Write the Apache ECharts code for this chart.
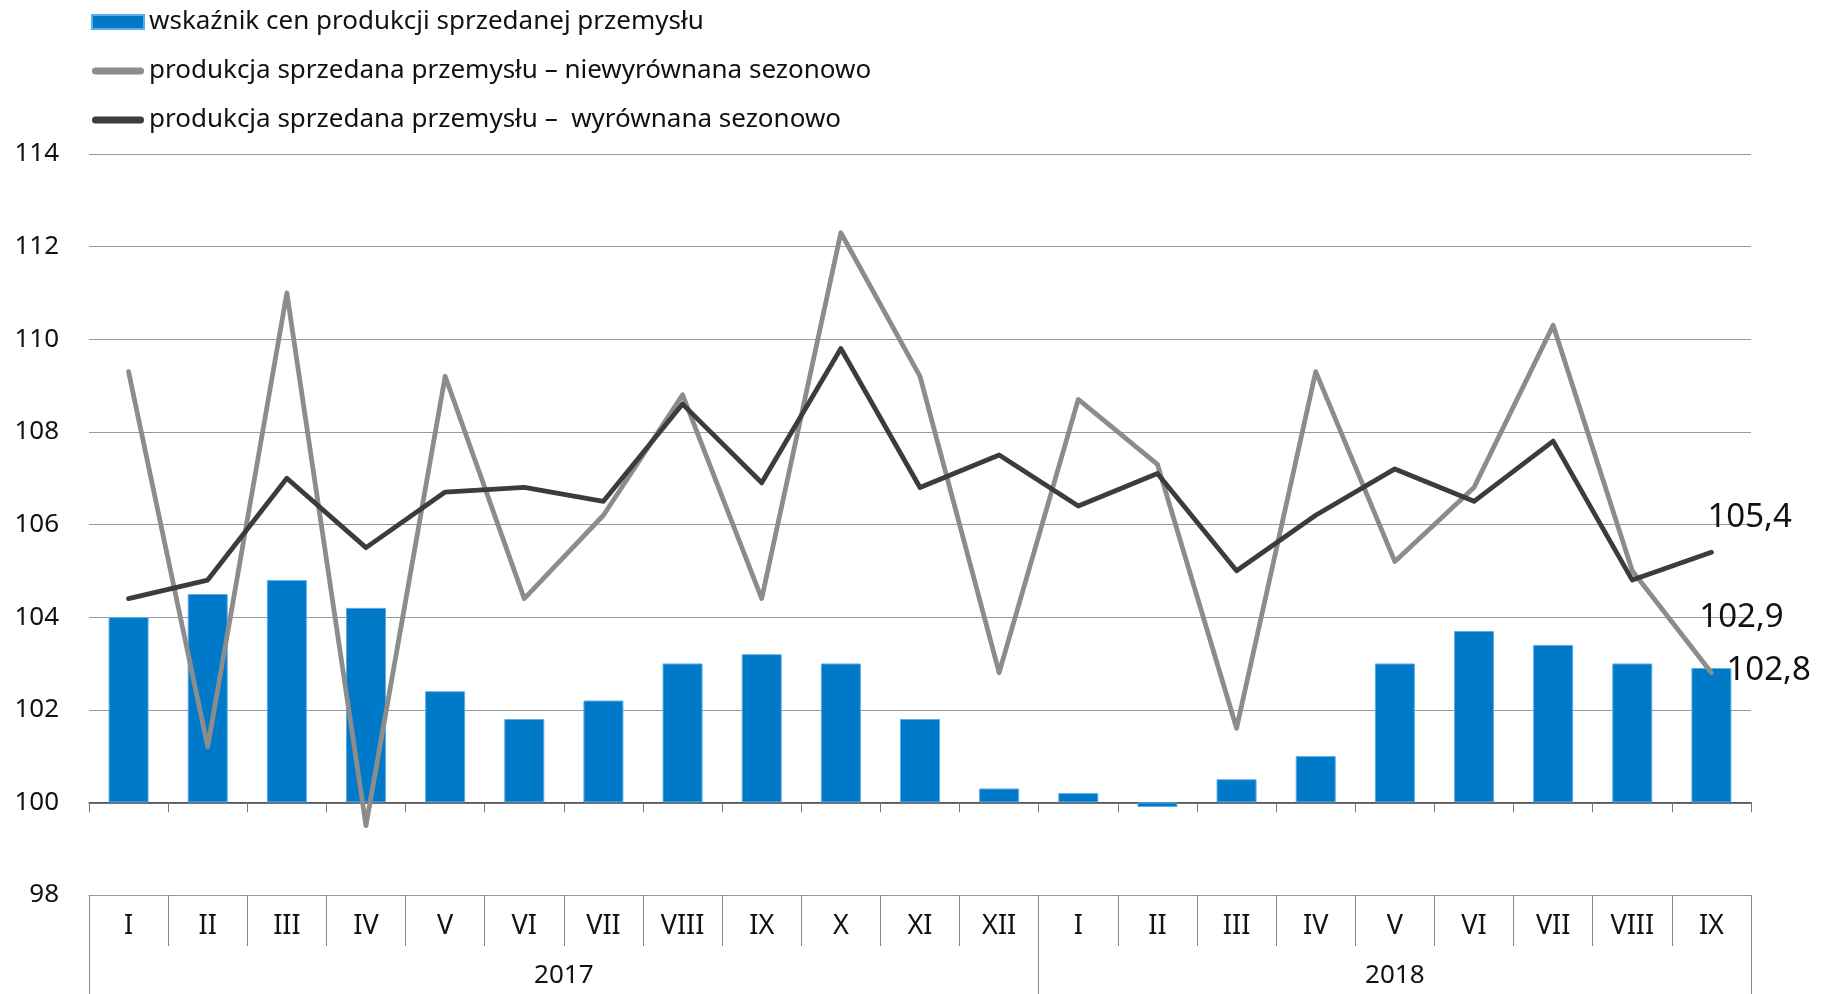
<!DOCTYPE html>
<html>
<head>
<meta charset="utf-8">
<title>Produkcja sprzedana przemysłu</title>
<script src="https://cdn.jsdelivr.net/npm/echarts@6/dist/echarts.min.js"></script>
<style>
html, body {
	margin: 0;
	padding: 0;
	background: #fff;
}
#chart {
	width: 1829px;
	height: 994px;
}
</style>
</head>
<body>
<div id="chart"></div>
<script type="text/javascript">
// miesiące (dwa lata)
var months = ['I', 'II', 'III', 'IV', 'V', 'VI', 'VII', 'VIII', 'IX', 'X', 'XI', 'XII',
              'I', 'II', 'III', 'IV', 'V', 'VI', 'VII', 'VIII', 'IX'];
var years = ['2017', '2018'];
var yearMonths = [12, 9];

// wskaźnik cen produkcji sprzedanej przemysłu
var priceIndex = [104.0, 104.5, 104.8, 104.2, 102.4, 101.8, 102.2, 103.0, 103.2, 103.0, 101.8, 100.3,
                  100.2, 99.9, 100.5, 101.0, 103.0, 103.7, 103.4, 103.0, 102.9];
// produkcja sprzedana – niewyrównana sezonowo
var unadjusted = [109.3, 101.2, 111.0, 99.5, 109.2, 104.4, 106.2, 108.8, 104.4, 112.3, 109.2, 102.8,
                  108.7, 107.3, 101.6, 109.3, 105.2, 106.8, 110.3, 105.0, 102.8];
// produkcja sprzedana – wyrównana sezonowo
var adjusted = [104.4, 104.8, 107.0, 105.5, 106.7, 106.8, 106.5, 108.6, 106.9, 109.8, 106.8, 107.5,
                106.4, 107.1, 105.0, 106.2, 107.2, 106.5, 107.8, 104.8, 105.4];

var BASE = 100;
var last = months.length - 1;
var font = 'Noto Sans';

function fmt(v) {
    return v.toFixed(1).replace('.', ',');
}

// pozycje etykiet lat i granic lat
var yearTicks = [0];
var yearCenters = [];
var acc = 0;
for (var k = 0; k < years.length; k++) {
    yearCenters.push(acc + yearMonths[k] / 2);
    acc += yearMonths[k];
    yearTicks.push(acc);
}

var chart = echarts.init(document.getElementById('chart'));

var lineIcon = 'path://M3.5,0 L48.5,0 A3.5,3.5 0 0 1 48.5,7 L3.5,7 A3.5,3.5 0 0 1 3.5,0 Z';

var option = {
    animation: false,
    textStyle: {fontFamily: font},
    legend: {
        orient: 'vertical',
        left: 86,
        top: 4,
        itemWidth: 52,
        itemHeight: 14,
        itemGap: 23,
        textStyle: {fontSize: 26, color: '#111', fontFamily: font},
        data: [
            {name: 'wskaźnik cen produkcji sprzedanej przemysłu', icon: 'rect'},
            {name: 'produkcja sprzedana przemysłu – niewyrównana sezonowo', icon: lineIcon},
            {name: 'produkcja sprzedana przemysłu –  wyrównana sezonowo', icon: lineIcon}
        ]
    },
    grid: {left: 89, right: 78, top: 154, bottom: 99, containLabel: false},
    xAxis: [{
        // oś na poziomie 100
        type: 'category',
        data: months,
        position: 'bottom',
        axisLine: {show: true, onZero: true, onZeroAxisIndex: 1, lineStyle: {color: '#444', width: 1.5}},
        axisTick: {show: true, interval: 0, length: 10, lineStyle: {color: '#777'}},
        axisLabel: {show: false},
        splitLine: {show: false}
    }, {
        // wiersz miesięcy
        type: 'category',
        data: months,
        position: 'bottom',
        axisLine: {show: true, onZero: false, lineStyle: {color: '#999', width: 1}},
        axisTick: {show: true, interval: 0, length: 51, lineStyle: {color: '#888'}},
        axisLabel: {show: true, interval: 0, margin: 18, fontSize: 27, color: '#111', fontFamily: font},
        splitLine: {show: false}
    }, {
        // wiersz lat
        type: 'value',
        min: 0,
        max: months.length,
        position: 'bottom',
        axisLine: {show: false, onZero: false},
        axisTick: {show: true, customValues: yearTicks, length: 99, lineStyle: {color: '#888'}},
        axisLabel: {
            show: true,
            customValues: yearCenters,
            margin: 68,
            fontSize: 26,
            color: '#111',
            fontFamily: font,
            formatter: function (v) {
                var i = yearCenters.indexOf(v);
                return i >= 0 ? years[i] : '';
            }
        },
        splitLine: {show: false}
    }],
    yAxis: [{
        type: 'value',
        min: 98,
        max: 114,
        interval: 2,
        axisLine: {show: false, onZero: false},
        axisTick: {show: false},
        axisLabel: {margin: 30, fontSize: 26, color: '#111', fontFamily: font},
        splitLine: {show: true, lineStyle: {color: '#999', width: 1}}
    }, {
        type: 'value',
        min: 98 - BASE,
        max: 114 - BASE,
        show: false,
        axisLine: {onZero: false},
        splitLine: {show: false}
    }],
    series: [{
        name: 'wskaźnik cen produkcji sprzedanej przemysłu',
        type: 'bar',
        xAxisIndex: 0,
        yAxisIndex: 1,
        barWidth: 40,
        itemStyle: {color: '#0079c8', borderColor: '#5aaee8', borderWidth: 1},
        data: priceIndex.map(function (v) { return +(v - BASE).toFixed(1); }),
        label: {
            show: true,
            position: 'top',
            offset: [30, -29],
            fontSize: 33,
            color: '#111',
            fontFamily: font,
            formatter: function (p) {
                return p.dataIndex === last ? fmt(priceIndex[p.dataIndex]) : '';
            }
        },
        z: 1
    }, {
        name: 'produkcja sprzedana przemysłu – niewyrównana sezonowo',
        type: 'line',
        xAxisIndex: 0,
        yAxisIndex: 0,
        symbol: 'none',
        data: unadjusted,
        itemStyle: {color: '#8c8c8c'},
        lineStyle: {color: '#8c8c8c', width: 4.8, cap: 'round', join: 'round'},
        endLabel: {
            show: true,
            distance: 8,
            offset: [7, -2],
            fontSize: 33,
            color: '#111',
            fontFamily: font,
            formatter: function (p) {
                return fmt(p.value);
            }
        },
        z: 3
    }, {
        name: 'produkcja sprzedana przemysłu –  wyrównana sezonowo',
        type: 'line',
        xAxisIndex: 0,
        yAxisIndex: 0,
        symbol: 'none',
        data: adjusted,
        itemStyle: {color: '#3c3c3c'},
        lineStyle: {color: '#3c3c3c', width: 4.8, cap: 'round', join: 'round'},
        endLabel: {
            show: true,
            distance: 8,
            offset: [-12, -35],
            fontSize: 33,
            color: '#111',
            fontFamily: font,
            formatter: function (p) {
                return fmt(p.value);
            }
        },
        z: 4
    }]
};

chart.setOption(option);
</script>
</body>
</html>
